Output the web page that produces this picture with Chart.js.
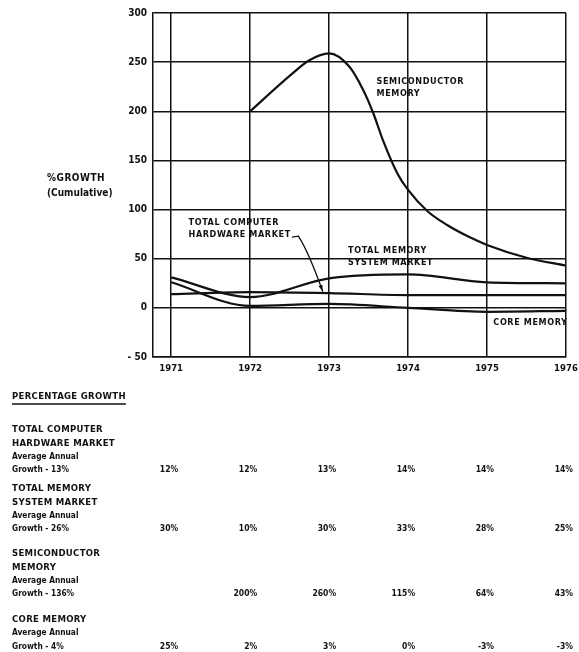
<!DOCTYPE html>
<html>
<head>
<meta charset="utf-8">
<script src="https://cdn.jsdelivr.net/npm/chart.js@4.4.1/dist/chart.umd.min.js"></script>
<style>
  html, body { margin: 0; padding: 0; background: #fff; }
  #growthChart { display: block; }
</style>
</head>
<body>
<canvas id="growthChart" width="579" height="652"></canvas>
<script>
// years on the x axis
const years = [1971, 1972, 1973, 1974, 1975, 1976];
const xStart = 1970.77;

// curves
const hardwareLine = [14, 16, 15, 13, 13, 13];
const memoryLine = [31, 11, 30, 34, 26, 25];
const coreLine = [26, 2, 4, 0, -4, -3];
// semiconductor curve is read at more places, 5 points don't give its shape
const semiX = [1972, 1972.5, 1972.75, 1973, 1973.25, 1973.43, 1973.56, 1973.68, 1973.87, 1974, 1974.25, 1974.5, 1974.75, 1975, 1975.5, 1976];
const semiY = [200, 236, 252, 259, 246, 222, 198, 171, 136, 120, 98, 84, 73, 64, 51, 43];

// percentage growth table
const hardwareTable = [12, 12, 13, 14, 14, 14];
const memoryTable = [30, 10, 30, 33, 28, 25];
const semiTable = [null, 200, 260, 115, 64, 43];
const coreTable = [25, 2, 3, 0, -3, -3];
const avgGrowth = [13, 26, 136, 4];
const rowTitles = [
    ['TOTAL COMPUTER', 'HARDWARE MARKET'],
    ['TOTAL MEMORY', 'SYSTEM MARKET'],
    ['SEMICONDUCTOR', 'MEMORY'],
    ['CORE MEMORY']
];

const INK = '#111';
const FONT = "'DejaVu Sans Condensed', 'Liberation Sans Narrow', 'DejaVu Sans', sans-serif";

function lineSet(xs, vals) {
    return {
        data: xs.map((x, i) => ({ x: x, y: vals[i] })),
        borderColor: INK,
        borderWidth: 2.2,
        pointRadius: 0,
        fill: false,
        cubicInterpolationMode: 'monotone'
    };
}

// labels inside the plot, in data units
const curveLabels = [
    { lines: ['SEMICONDUCTOR', 'MEMORY'], x: 1973.6, y: 230 },
    { lines: ['TOTAL COMPUTER', 'HARDWARE MARKET'], x: 1971.22, y: 86.5 },
    { lines: ['TOTAL MEMORY', 'SYSTEM MARKET'], x: 1973.24, y: 58 },
    { lines: ['CORE MEMORY'], x: 1975.08, y: -15 }
];
const arrowPath = [[1972.53, 72], [1972.61, 73], [1972.92, 16.5]];

const textPlugin = {
    id: 'texts',
    afterDraw(chart) {
        const ctx = chart.ctx;
        const xs = chart.scales.x, ys = chart.scales.y;
        ctx.save();
        ctx.fillStyle = INK;
        ctx.strokeStyle = INK;
        ctx.textBaseline = 'middle';

        // y title
        ctx.font = 'bold 10px ' + FONT;
        ctx.letterSpacing = '0.5px';
        ctx.fillText('%GROWTH', 47, 178);
        ctx.letterSpacing = '0px';
        ctx.fillText('(Cumulative)', 47, 193);

        // curve labels
        ctx.font = 'bold 9px ' + FONT;
        ctx.letterSpacing = '0.6px';
        curveLabels.forEach(l => {
            const px = xs.getPixelForValue(l.x), py = ys.getPixelForValue(l.y);
            l.lines.forEach((t, i) => ctx.fillText(t, px, py + i * 12));
        });

        // arrow to hardware curve
        const pts = arrowPath.map(p => [xs.getPixelForValue(p[0]), ys.getPixelForValue(p[1])]);
        ctx.lineWidth = 1.3;
        ctx.beginPath();
        ctx.moveTo(pts[0][0], pts[0][1]);
        ctx.lineTo(pts[1][0], pts[1][1]);
        ctx.quadraticCurveTo(pts[1][0] + 10, pts[1][1] + 15, pts[2][0], pts[2][1]);
        ctx.stroke();
        const ang = Math.atan2(pts[2][1] - pts[1][1], pts[2][0] - pts[1][0] - 4);
        ctx.beginPath();
        ctx.moveTo(pts[2][0], pts[2][1]);
        ctx.lineTo(pts[2][0] - 7 * Math.cos(ang - 0.3), pts[2][1] - 7 * Math.sin(ang - 0.3));
        ctx.lineTo(pts[2][0] - 7 * Math.cos(ang + 0.3), pts[2][1] - 7 * Math.sin(ang + 0.3));
        ctx.closePath();
        ctx.fill();

        // table
        ctx.font = 'bold 9.5px ' + FONT;
        ctx.letterSpacing = '0.3px';
        ctx.fillText('PERCENTAGE GROWTH', 12, 397);
        const w = ctx.measureText('PERCENTAGE GROWTH').width;
        ctx.lineWidth = 1.5;
        ctx.beginPath();
        ctx.moveTo(12, 404);
        ctx.lineTo(12 + w, 404);
        ctx.stroke();

        const tables = [hardwareTable, memoryTable, semiTable, coreTable];
        const tops = [430, 489, 554, 620];
        const gap = 13.3;
        tables.forEach((vals, r) => {
            let y = tops[r];
            ctx.textAlign = 'left';
            ctx.font = 'bold 9.5px ' + FONT;
            ctx.letterSpacing = '0.3px';
            rowTitles[r].forEach(t => { ctx.fillText(t, 12, y); y += gap; });
            ctx.font = 'bold 8.3px ' + FONT;
            ctx.letterSpacing = '0px';
            ctx.fillText('Average Annual', 12, y); y += gap;
            ctx.fillText('Growth - ' + avgGrowth[r] + '%', 12, y);
            ctx.textAlign = 'right';
            ctx.font = 'bold 8.5px ' + FONT;
            vals.forEach((v, i) => {
                if (v === null) return;
                ctx.fillText(v + '%', xs.getPixelForValue(years[i]) + 7, y);
            });
        });
        ctx.restore();
    }
};

const gridStyle = { color: INK, lineWidth: 1.5, drawTicks: false };
const borderStyle = { display: true, color: INK, width: 1.5 };

new Chart(document.getElementById('growthChart'), {
    type: 'line',
    data: {
        datasets: [
            lineSet(semiX, semiY),
            lineSet(years, memoryLine),
            lineSet(years, hardwareLine),
            lineSet(years, coreLine)
        ]
    },
    options: {
        responsive: false,
        animation: false,
        layout: { padding: { left: 0, top: 13, right: 13, bottom: 275 } },
        plugins: { legend: { display: false }, tooltip: { enabled: false } },
        scales: {
            x: {
                type: 'linear',
                min: xStart,
                max: 1976,
                afterBuildTicks: s => { s.ticks = years.map(v => ({ value: v })); },
                afterFit: s => { s.height = 20; s.paddingLeft = 0; s.paddingRight = 0; },
                grid: gridStyle,
                border: borderStyle,
                ticks: {
                    color: INK,
                    padding: 6,
                    font: { family: FONT, size: 9.5, weight: 'bold' },
                    callback: v => String(v)
                }
            },
            y: {
                min: -50,
                max: 300,
                afterFit: s => { s.width = 153; s.paddingTop = 0; s.paddingBottom = 0; },
                grid: gridStyle,
                border: borderStyle,
                ticks: {
                    stepSize: 50,
                    color: INK,
                    padding: 6,
                    font: { family: FONT, size: 10, weight: 'bold' },
                    callback: v => (v < 0 ? '- ' + Math.abs(v) : String(v))
                }
            }
        }
    },
    plugins: [textPlugin]
});
</script>
</body>
</html>
